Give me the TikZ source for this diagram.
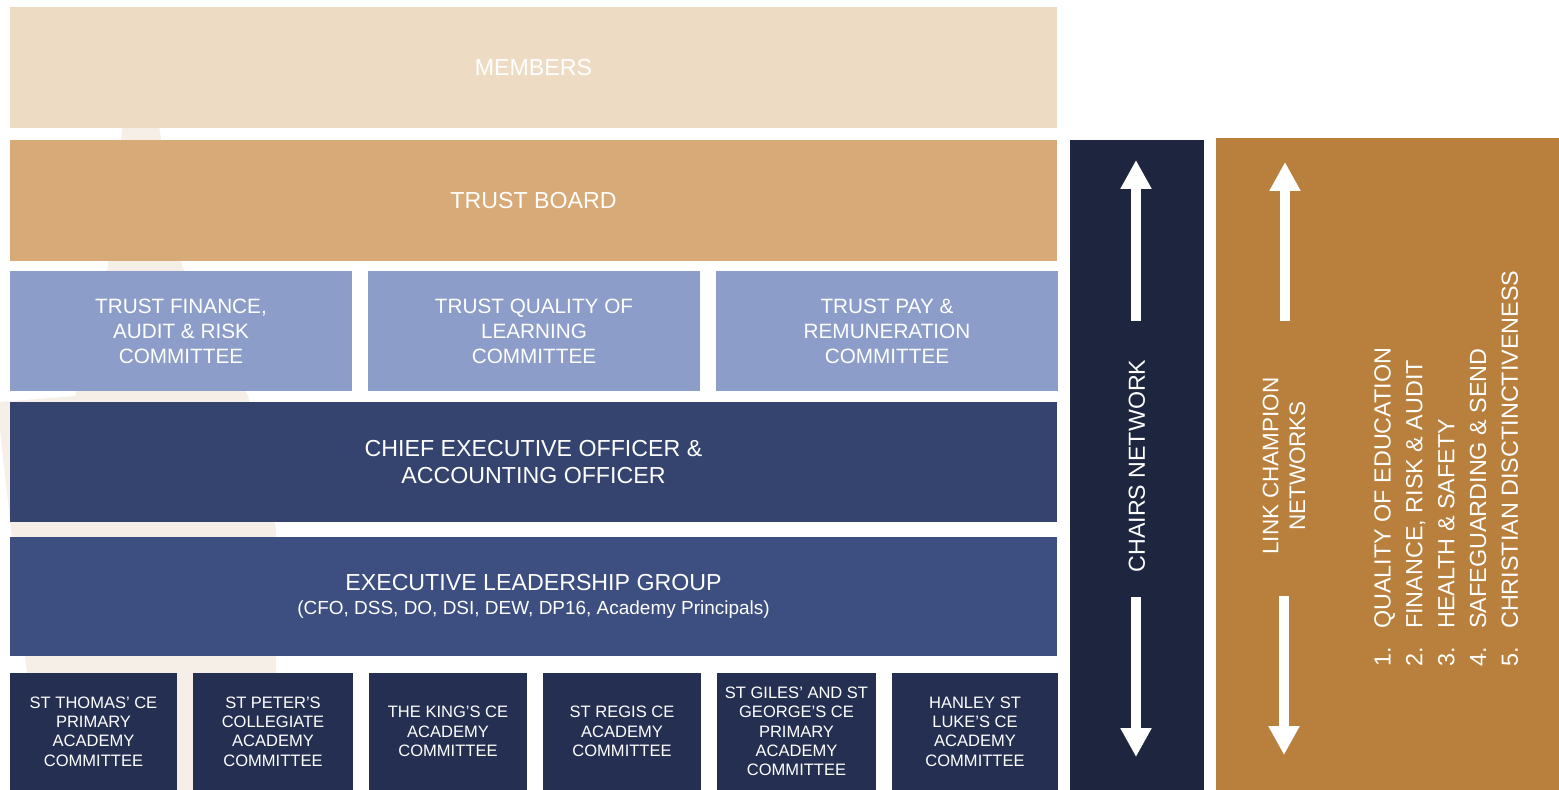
\documentclass[tikz,border=0pt]{standalone}
\usepackage{fontspec}
\setmainfont{Liberation Sans}
\usetikzlibrary{arrows.meta}

\definecolor{membersc}{HTML}{EDDCC3}
\definecolor{boardc}{HTML}{D8AA77}
\definecolor{commc}{HTML}{8C9DC9}
\definecolor{ceoc}{HTML}{34446F}
\definecolor{elgc}{HTML}{3D4E80}
\definecolor{acadc}{HTML}{252F52}
\definecolor{chairsc}{HTML}{1E263F}
\definecolor{linkc}{HTML}{B8803C}
\definecolor{wmarkc}{HTML}{F6EFE7}

\tikzset{
  panel/.style={fill=#1, inner sep=0pt, outer sep=0pt, text=white, align=center, anchor=north west},
  boxsize/.style 2 args={minimum width=#1*0.02cm, minimum height=#2*0.02cm},
  bigfont/.style={font=\fontsize{13.2}{15.9}\selectfont},
  commfont/.style={font=\fontsize{11.8}{14.2}\selectfont},
  acadfont/.style={font=\fontsize{9.4}{11}\selectfont},
  netarrow/.style={white, line width=5.7pt, -{Triangle[width=16.6pt,length=16.4pt]}},
}

\begin{document}
\begin{tikzpicture}[x=0.02cm, y=-0.02cm]
\useasboundingbox (0,0) rectangle (1559,790);

% faint watermark behind the boxes
\fill[wmarkc] (123,120) -- (158,120) -- (182,266) -- (248,396) -- (276,530)
  -- (276,790) -- (40,790) -- (0,430) -- (0,402) -- (75,396) -- (108,266) -- cycle;

% governance rows
\node[panel=membersc, boxsize={1047}{121}, bigfont] (members) at (10,7) {MEMBERS};
\node[panel=boardc, boxsize={1047}{121}, bigfont] (board) at (10,140) {TRUST BOARD};

\node[panel=commc, boxsize={342}{120}, commfont] (finance) at (10,271) {TRUST FINANCE,\\AUDIT \& RISK\\COMMITTEE};
\node[panel=commc, boxsize={332}{120}, commfont] (quality) at (368,271) {TRUST QUALITY OF\\LEARNING\\COMMITTEE};
\node[panel=commc, boxsize={342}{120}, commfont] (pay) at (716,271) {TRUST PAY \&\\REMUNERATION\\COMMITTEE};

\node[panel=ceoc, boxsize={1047}{120}, bigfont] (ceo) at (10,402) {CHIEF EXECUTIVE OFFICER \&\\ACCOUNTING OFFICER};
\node[panel=elgc, boxsize={1047}{119}, bigfont] (elg) at (10,537) {EXECUTIVE LEADERSHIP GROUP\\[-2pt]
  {\fontsize{10.8}{13}\selectfont (CFO, DSS, DO, DSI, DEW, DP16, Academy Principals)}};

% academy committees
\node[panel=acadc, boxsize={167}{117}, acadfont] (thomas) at (10,673) {ST THOMAS’ CE\\PRIMARY\\ACADEMY\\COMMITTEE};
\node[panel=acadc, boxsize={160}{117}, acadfont] (peter) at (193,673) {ST PETER’S\\COLLEGIATE\\ACADEMY\\COMMITTEE};
\node[panel=acadc, boxsize={158}{117}, acadfont] (kings) at (369,673) {THE KING’S CE\\ACADEMY\\COMMITTEE};
\node[panel=acadc, boxsize={158}{117}, acadfont] (regis) at (543,673) {ST REGIS CE\\ACADEMY\\COMMITTEE};
\node[panel=acadc, boxsize={159}{117}, acadfont] (giles) at (717,673) {ST GILES’ AND ST\\GEORGE’S CE\\PRIMARY\\ACADEMY\\COMMITTEE};
\node[panel=acadc, boxsize={166}{117}, acadfont] (hanley) at (892,673) {HANLEY ST\\LUKE’S CE\\ACADEMY\\COMMITTEE};

% networks
\node[panel=chairsc, boxsize={134}{650}] (chairs) at (1070,140) {};
\node[panel=linkc, boxsize={343}{652}] (link) at (1216,138) {};

\node[rotate=90, text=white, bigfont] (chairslbl) at (1137,466) {CHAIRS NETWORK};
\node[rotate=90, text=white, align=center, font=\fontsize{12.8}{15.3}\selectfont] (linklbl) at (1284,466) {LINK CHAMPION\\NETWORKS};
\node[rotate=90, anchor=north west, inner sep=0pt, text=white, align=left,
  font=\fontsize{13.3}{18.1}\selectfont] (topics) at (1374,667)
  {\makebox[1.62em][l]{1.}QUALITY OF EDUCATION\\
   \makebox[1.62em][l]{2.}FINANCE, RISK \& AUDIT\\
   \makebox[1.62em][l]{3.}HEALTH \& SAFETY\\
   \makebox[1.62em][l]{4.}SAFEGUARDING \& SEND\\
   \makebox[1.62em][l]{5.}CHRISTIAN DISCTINCTIVENESS};

% two-way arrows
\coordinate (cup0) at (1136,321);
\coordinate (cup1) at (1136,160);
\coordinate (cdn0) at (1136,597);
\coordinate (cdn1) at (1136,757);
\coordinate (lup0) at (1285,321);
\coordinate (lup1) at (1285,162);
\coordinate (ldn0) at (1284,596);
\coordinate (ldn1) at (1284,755);
\draw[netarrow] (cup0) -- (cup1);
\draw[netarrow] (cdn0) -- (cdn1);
\draw[netarrow] (lup0) -- (lup1);
\draw[netarrow] (ldn0) -- (ldn1);
\end{tikzpicture}
\end{document}
